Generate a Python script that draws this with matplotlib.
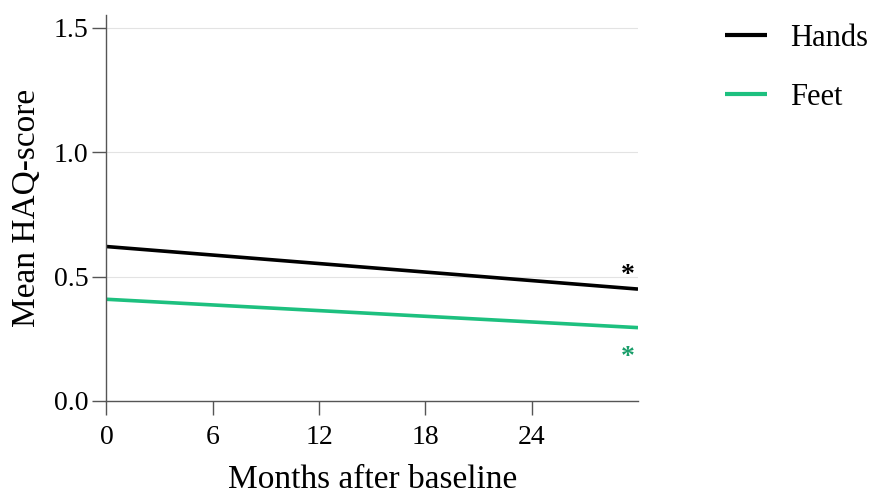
import matplotlib
matplotlib.use("Agg")
import matplotlib.pyplot as plt

months = [0, 30]
hands = [0.621, 0.450]
feet = [0.409, 0.295]
series_names = ["Hands", "Feet"]
xticks = [0, 6, 12, 18, 24]
yticks = [0.0, 0.5, 1.0, 1.5]
star_x = 29.4
star_hands_y = 0.503
star_feet_y = 0.176

plt.rcParams['font.family'] = ['Liberation Serif', 'DejaVu Serif']

fig = plt.figure(figsize=(8.7, 4.93), dpi=100)
ax_l, ax_r, ax_b, ax_t = 106.5, 638, 401, 15
ax = fig.add_axes([ax_l/870, 1-ax_b/493, (ax_r-ax_l)/870, (ax_b-ax_t)/493])

ax.plot(months, hands, color='#000000', lw=2.6, label=series_names[0], solid_capstyle='butt')
ax.plot(months, feet, color='#1dc07f', lw=2.6, label=series_names[1], solid_capstyle='butt')

ax.text(star_x, star_hands_y, '*', color='#000000', fontsize=20, ha='center', va='center', fontweight='bold')
ax.text(star_x, star_feet_y, '*', color='#1a9e6a', fontsize=20, ha='center', va='center', fontweight='bold')

ax.set_xlim(0, 30)
ax.set_ylim(0, 1.552)
ax.set_xticks(xticks)
ax.set_yticks(yticks)
ax.set_yticklabels([f"{v:.1f}" for v in yticks])
ax.grid(axis='y', color='#e3e3e3', lw=0.8)
ax.set_axisbelow(True)

for s in ['top', 'right']:
    ax.spines[s].set_visible(False)
for s in ['left', 'bottom']:
    ax.spines[s].set_color('#555555')
    ax.spines[s].set_linewidth(1.0)
ax.tick_params(direction='out', length=10, width=1.0, color='#555555', labelsize=20)
ax.tick_params(axis='x', pad=7.5)
ax.tick_params(axis='y', pad=3)

ax.set_xlabel('Months after baseline', fontsize=24)
ax.set_ylabel('Mean HAQ-score', fontsize=24)
ax.xaxis.set_label_coords(0.5, -(464-ax_b)/(ax_b-ax_t))
ax.yaxis.set_label_coords(-(ax_l-42)/(ax_r-ax_l), 0.5)

leg = fig.legend(loc='upper left', bbox_to_anchor=(725/870, 1-24/493), frameon=False,
                 fontsize=22, handlelength=1.37, handletextpad=0.75, labelspacing=0.98,
                 borderpad=0, borderaxespad=0)
for l in leg.get_lines():
    l.set_linewidth(3)

fig.savefig('out.png', dpi=100)
